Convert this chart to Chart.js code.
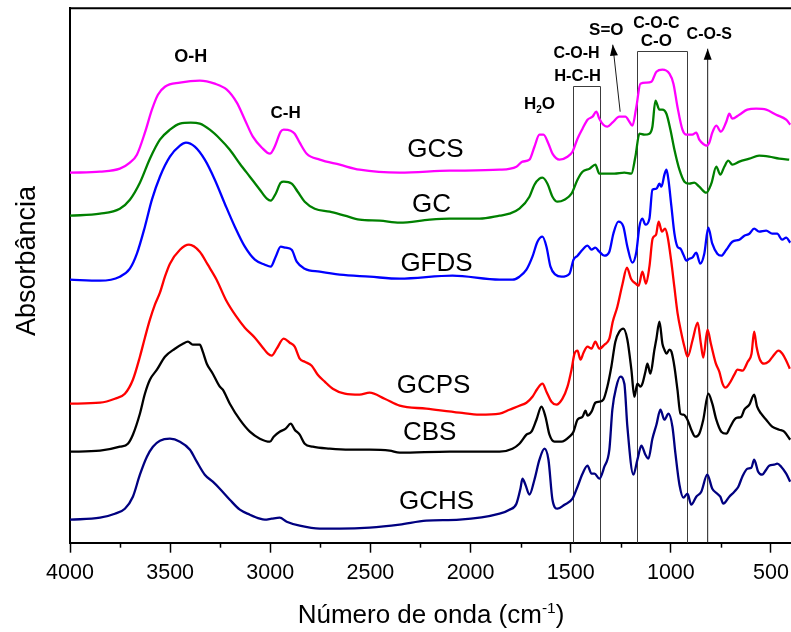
<!DOCTYPE html>
<html>
<head>
<meta charset="utf-8">
<title>Espectros FTIR</title>
<script src="https://cdn.jsdelivr.net/npm/chart.js@4/dist/chart.umd.min.js"></script>
<style>
  html, body { margin: 0; padding: 0; background: #ffffff; }
  #wrap { width: 791px; height: 632px; }
</style>
</head>
<body>
<div id="wrap"><canvas id="ftir" width="791" height="632"></canvas></div>
<script>
// Wavenumbers (cm-1) and absorbance of each spectrum (curves are offset vertically)
const gcsWn  = [4000,3850,3751,3701,3666,3626,3591,3561,3526,3451,3352,3277,3217,3167,3127,3087,3042,3002,2978,2948,2933,2898,2878,2853,2818,2753,2653,2554,2354,2105,1855,1771,1741,1706,1681,1656,1636,1611,1591,1556,1516,1491,1466,1441,1416,1391,1372,1357,1337,1317,1292,1257,1227,1207,1192,1172,1152,1122,1097,1072,1042,1007,987,967,942,922,893,873,858,833,823,808,793,773,750,723,708,693,658,618,574,524,474,424,404];
const gcsAbs = [3.70,3.71,3.74,3.80,3.88,4.10,4.33,4.48,4.56,4.60,4.62,4.59,4.53,4.40,4.23,4.06,3.95,3.89,3.96,4.11,4.13,4.12,4.09,4.00,3.89,3.83,3.78,3.73,3.70,3.72,3.73,3.76,3.81,3.83,3.96,4.08,4.08,3.99,3.89,3.83,3.86,3.91,4.04,4.14,4.23,4.26,4.31,4.24,4.18,4.16,4.20,4.26,4.26,4.21,4.17,4.36,4.59,4.60,4.61,4.71,4.73,4.69,4.59,4.36,4.13,4.08,4.08,4.10,4.03,3.98,3.97,4.00,4.10,4.17,4.11,4.21,4.29,4.24,4.28,4.33,4.34,4.33,4.28,4.23,4.18];

const gcWn  = [4000,3850,3751,3701,3651,3601,3551,3501,3451,3397,3352,3302,3252,3202,3152,3102,3052,3017,2998,2973,2948,2933,2893,2863,2828,2778,2703,2628,2554,2454,2354,2204,2105,1955,1855,1806,1756,1706,1681,1656,1641,1616,1591,1566,1531,1496,1466,1441,1406,1377,1357,1327,1282,1232,1197,1177,1157,1132,1107,1092,1077,1057,1042,1022,1002,982,957,932,908,883,858,823,798,773,753,733,713,693,658,608,559,509,459,409];
const gcAbs = [3.27,3.29,3.34,3.43,3.60,3.84,4.03,4.13,4.19,4.20,4.19,4.13,4.04,3.93,3.79,3.66,3.53,3.44,3.42,3.49,3.60,3.61,3.59,3.51,3.41,3.34,3.31,3.27,3.23,3.22,3.20,3.23,3.24,3.24,3.27,3.29,3.34,3.46,3.58,3.64,3.65,3.59,3.46,3.41,3.43,3.49,3.63,3.71,3.74,3.78,3.69,3.69,3.69,3.70,3.69,3.86,4.09,4.08,4.09,4.16,4.42,4.33,4.33,4.29,4.13,3.93,3.73,3.61,3.59,3.60,3.56,3.50,3.59,3.76,3.68,3.76,3.82,3.78,3.81,3.84,3.87,3.86,3.84,3.83];

const gfdsWn  = [4000,3850,3751,3701,3666,3626,3591,3551,3501,3451,3421,3377,3327,3277,3227,3177,3127,3077,3027,2998,2973,2948,2923,2893,2868,2828,2753,2653,2504,2354,2090,1855,1791,1756,1721,1691,1666,1641,1621,1601,1576,1546,1506,1486,1466,1441,1416,1396,1377,1357,1332,1307,1287,1262,1237,1217,1192,1172,1157,1142,1127,1107,1092,1072,1057,1047,1032,1022,1012,997,982,967,952,937,922,908,893,873,853,833,813,793,768,748,723,693,658,633,608,584,559,524,494,469,444,424,404];
const gfdsAbs = [2.63,2.62,2.66,2.74,2.89,3.16,3.43,3.66,3.86,3.97,4.00,3.96,3.83,3.63,3.39,3.16,2.96,2.83,2.78,2.76,2.86,2.96,2.95,2.93,2.81,2.74,2.71,2.68,2.66,2.64,2.67,2.63,2.63,2.66,2.73,2.86,3.01,3.06,2.96,2.76,2.68,2.66,2.69,2.83,2.87,2.93,2.97,2.93,2.95,2.91,2.87,2.91,3.09,3.21,3.16,2.96,2.80,2.91,3.16,3.24,3.18,3.24,3.53,3.54,3.59,3.56,3.68,3.73,3.63,3.36,3.09,2.96,2.94,2.88,2.82,2.84,2.85,2.90,2.79,2.89,3.15,2.99,2.89,2.87,2.93,3.01,3.03,3.07,3.09,3.14,3.11,3.12,3.09,3.09,3.03,3.05,3.00];

const gcpsWn  = [4000,3850,3776,3726,3686,3651,3626,3601,3576,3551,3526,3501,3451,3406,3352,3312,3268,3222,3169,3127,3077,3037,3012,2993,2968,2933,2903,2878,2853,2828,2793,2763,2728,2688,2628,2554,2504,2429,2354,2221,2055,1955,1855,1806,1756,1721,1691,1666,1641,1621,1596,1571,1541,1516,1496,1481,1466,1451,1436,1416,1396,1377,1357,1332,1307,1290,1267,1241,1219,1199,1175,1161,1142,1124,1107,1091,1074,1061,1044,1029,1016,999,982,966,949,932,916,891,866,850,838,817,800,775,758,742,728,708,683,667,642,616,597,584,572,555,534,512,492,462,443,426,406];
const gcpsAbs = [1.39,1.40,1.44,1.49,1.63,1.86,2.05,2.23,2.38,2.50,2.66,2.79,2.93,2.98,2.91,2.78,2.63,2.43,2.26,2.15,2.05,1.95,1.89,1.87,1.94,2.04,2.00,1.96,1.84,1.81,1.77,1.68,1.61,1.54,1.49,1.48,1.50,1.44,1.37,1.34,1.30,1.28,1.29,1.33,1.37,1.40,1.46,1.54,1.59,1.51,1.41,1.38,1.44,1.56,1.73,1.89,1.92,1.83,1.90,1.96,1.94,2.01,1.94,1.98,2.04,2.21,2.36,2.59,2.75,2.64,2.59,2.57,2.71,2.59,2.76,3.04,3.08,3.21,3.11,3.14,3.06,2.83,2.55,2.29,2.11,1.96,1.86,2.03,2.20,1.99,1.85,2.13,1.99,1.79,1.71,1.59,1.55,1.59,1.68,1.73,1.72,1.81,1.89,2.11,1.96,1.83,1.79,1.81,1.86,1.92,1.89,1.83,1.74];

const cbsWn  = [4000,3850,3751,3711,3686,3651,3626,3601,3566,3526,3476,3436,3411,3387,3352,3337,3317,3287,3252,3237,3202,3152,3102,3052,3002,2983,2953,2923,2898,2878,2853,2828,2788,2703,2603,2504,2404,2354,2105,1855,1791,1756,1721,1696,1671,1646,1626,1606,1581,1546,1506,1486,1466,1441,1426,1416,1396,1377,1357,1337,1317,1297,1277,1257,1237,1217,1197,1182,1167,1152,1142,1127,1117,1102,1082,1072,1057,1042,1032,1022,1007,997,982,967,952,937,917,898,878,858,838,813,793,773,748,723,703,683,668,648,633,608,584,569,549,524,494,459,434,404];
const cbsAbs = [0.91,0.92,0.96,0.99,1.08,1.29,1.49,1.63,1.73,1.86,1.94,1.99,2.01,1.98,1.98,1.91,1.79,1.69,1.56,1.53,1.39,1.23,1.11,1.04,1.01,1.06,1.11,1.14,1.19,1.13,1.08,0.99,0.96,0.94,0.93,0.93,0.92,0.90,0.91,0.91,0.94,0.99,1.08,1.11,1.23,1.36,1.26,1.08,1.01,1.01,1.06,1.11,1.23,1.26,1.32,1.27,1.31,1.40,1.41,1.43,1.56,1.76,2.01,2.11,2.14,2.03,1.73,1.46,1.59,1.56,1.59,1.71,1.79,1.69,1.93,2.04,2.21,1.99,1.93,1.89,1.93,1.91,1.76,1.53,1.29,1.28,1.23,1.13,1.06,1.09,1.23,1.49,1.39,1.23,1.11,1.09,1.16,1.23,1.25,1.26,1.33,1.38,1.48,1.36,1.29,1.23,1.16,1.13,1.11,1.03];

const gchsWn  = [4000,3850,3776,3726,3686,3651,3616,3586,3551,3501,3451,3401,3367,3327,3287,3252,3202,3152,3102,3052,3027,2993,2953,2918,2853,2753,2653,2504,2354,2221,2055,1855,1806,1771,1751,1741,1726,1706,1681,1656,1631,1611,1591,1566,1531,1491,1466,1441,1416,1396,1381,1357,1332,1307,1292,1272,1252,1232,1217,1187,1167,1147,1127,1112,1092,1072,1052,1032,1012,992,977,957,937,917,898,873,848,818,793,768,753,738,708,683,663,643,618,598,584,564,544,524,509,484,469,449,424,404];
const gchsAbs = [0.23,0.25,0.29,0.34,0.46,0.68,0.86,0.96,1.02,1.04,1.01,0.93,0.81,0.68,0.61,0.54,0.43,0.33,0.28,0.24,0.23,0.24,0.25,0.21,0.17,0.14,0.14,0.15,0.18,0.22,0.23,0.29,0.33,0.39,0.54,0.64,0.58,0.48,0.63,0.83,0.94,0.83,0.43,0.34,0.38,0.44,0.56,0.69,0.77,0.69,0.69,0.64,0.76,0.93,1.33,1.56,1.66,1.59,1.16,0.68,0.83,0.97,0.88,0.84,1.04,1.18,1.33,1.23,1.29,1.16,0.89,0.58,0.45,0.49,0.38,0.46,0.51,0.68,0.54,0.49,0.46,0.39,0.46,0.51,0.56,0.66,0.74,0.75,0.83,0.71,0.68,0.73,0.77,0.78,0.79,0.76,0.69,0.61];

// Sample names
const sampleNames = ['GCS', 'GC', 'GFDS', 'GCPS', 'CBS', 'GCHS'];
// Where each sample name sits (wavenumber, absorbance)
const sampleNameAt = [[2175, 3.93], [2195, 3.38], [2170, 2.79], [2185, 1.57], [2204, 1.10], [2170, 0.41]];

// Axis ticks
const xTicks = [4000, 3500, 3000, 2500, 2000, 1500, 1000, 500];

// Band assignments
const bandBoxes = [
  { from: 1488, to: 1353, top: 4.57 },   // C-O-H / H-C-H
  { from: 1169, to: 921,  top: 4.92 }    // C-O-C / C-O
];
const bandArrows = [
  { fromWn: 816,  fromA: 0,    toWn: 816,  toA: 4.94 },  // C-O-S
  { fromWn: 1253, fromA: 4.31, toWn: 1290, toA: 4.98 }   // S=O
];
const bandLabels = [
  { text: 'O-H',   wn: 3397, a: 4.86, size: 18 },
  { text: 'C-H',   wn: 2923, a: 4.29, size: 17 },
  { text: 'C-O-H', wn: 1471, a: 4.89, size: 16 },
  { text: 'H-C-H', wn: 1466, a: 4.66, size: 16.5 },
  { text: 'S=O',   wn: 1322, a: 5.12, size: 17 },
  { text: 'C-O-C', wn: 1072, a: 5.19, size: 16 },
  { text: 'C-O',   wn: 1072, a: 5.01, size: 17 },
  { text: 'C-O-S', wn: 808,  a: 5.08, size: 16 }
];
const waterLabel = { wn: 1656, a: 4.38, size: 17 };

const FONT = "'Liberation Sans', Arial, Helvetica, sans-serif";
const colors = ['#ff00ff', '#008000', '#0000ff', '#ff0000', '#000000', '#000080'];
const seriesWn  = [gcsWn, gcWn, gfdsWn, gcpsWn, cbsWn, gchsWn];
const seriesAbs = [gcsAbs, gcAbs, gfdsAbs, gcpsAbs, cbsAbs, gchsAbs];

const datasets = sampleNames.map((name, i) => ({
  label: name,
  data: seriesWn[i].map((w, k) => ({ x: w, y: seriesAbs[i][k] })),
  borderColor: colors[i],
  borderWidth: 2.3,
  pointRadius: 0,
  fill: false,
  cubicInterpolationMode: 'monotone'
}));

function arrowHead(ctx, x0, y0, x1, y1, len, half) {
  const ang = Math.atan2(y1 - y0, x1 - x0);
  ctx.beginPath();
  ctx.moveTo(x1, y1);
  ctx.lineTo(x1 - len * Math.cos(ang) + half * Math.sin(ang), y1 - len * Math.sin(ang) - half * Math.cos(ang));
  ctx.lineTo(x1 - len * Math.cos(ang) - half * Math.sin(ang), y1 - len * Math.sin(ang) + half * Math.cos(ang));
  ctx.closePath();
  ctx.fill();
}

const decorations = {
  id: 'decorations',
  beforeDatasetsDraw(chart) {
    const { ctx, chartArea: area, scales: { x, y } } = chart;
    ctx.save();
    // top edge of the frame
    ctx.strokeStyle = '#000';
    ctx.lineWidth = 2;
    ctx.beginPath();
    ctx.moveTo(area.left - 1, area.top);
    ctx.lineTo(area.right, area.top);
    ctx.stroke();

    // minor ticks between the labelled ones
    ctx.lineWidth = 1.5;
    for (let v = 750; v < 4000; v += 500) {
      const px = Math.round(x.getPixelForValue(v)) + 0.5;
      ctx.beginPath();
      ctx.moveTo(px, area.bottom);
      ctx.lineTo(px, area.bottom + 5);
      ctx.stroke();
    }

    // band boxes
    ctx.strokeStyle = '#3c3c3c';
    ctx.lineWidth = 1;
    bandBoxes.forEach(b => {
      const x1 = Math.round(x.getPixelForValue(b.from)) + 0.5;
      const x2 = Math.round(x.getPixelForValue(b.to)) + 0.5;
      const yt = Math.round(y.getPixelForValue(b.top)) + 0.5;
      ctx.beginPath();
      ctx.moveTo(x1, area.bottom);
      ctx.lineTo(x1, yt);
      ctx.lineTo(x2, yt);
      ctx.lineTo(x2, area.bottom);
      ctx.stroke();
    });

    // arrows
    ctx.fillStyle = '#000';
    ctx.strokeStyle = '#1a1a1a';
    bandArrows.forEach(a => {
      const x0 = x.getPixelForValue(a.fromWn), y0 = y.getPixelForValue(a.fromA);
      const x1 = x.getPixelForValue(a.toWn),   y1 = y.getPixelForValue(a.toA);
      ctx.beginPath();
      ctx.moveTo(x0, y0);
      ctx.lineTo(x1, y1);
      ctx.stroke();
      arrowHead(ctx, x0, y0, x1, y1, 11, 4);
    });
    ctx.restore();
  },
  afterDraw(chart) {
    const { ctx, chartArea: area, scales: { x, y } } = chart;
    ctx.save();
    ctx.fillStyle = '#000';
    ctx.textAlign = 'center';
    ctx.textBaseline = 'middle';

    // sample names
    ctx.font = '26px ' + FONT;
    sampleNames.forEach((name, i) => {
      ctx.fillText(name, x.getPixelForValue(sampleNameAt[i][0]), y.getPixelForValue(sampleNameAt[i][1]));
    });

    // band labels
    bandLabels.forEach(l => {
      ctx.font = 'bold ' + l.size + 'px ' + FONT;
      ctx.fillText(l.text, x.getPixelForValue(l.wn), y.getPixelForValue(l.a));
    });

    // H2O with subscript
    {
      const big = 'bold ' + waterLabel.size + 'px ' + FONT;
      const small = 'bold ' + Math.round(waterLabel.size * 0.6) + 'px ' + FONT;
      ctx.font = big;
      const wH = ctx.measureText('H').width, wO = ctx.measureText('O').width;
      ctx.font = small;
      const w2 = ctx.measureText('2').width;
      const cx = x.getPixelForValue(waterLabel.wn), cy = y.getPixelForValue(waterLabel.a);
      const sx = cx - (wH + w2 + wO) / 2;
      ctx.textAlign = 'left';
      ctx.font = big;
      ctx.fillText('H', sx, cy);
      ctx.font = small;
      ctx.fillText('2', sx + wH, cy + 6);
      ctx.font = big;
      ctx.fillText('O', sx + wH + w2, cy);
    }

    // x axis title with superscript
    {
      const big = '26px ' + FONT, small = '15.5px ' + FONT;
      const parts = [['Número de onda (cm', big, 0], ['-1', small, -10], [')', big, 0]];
      let total = 0;
      parts.forEach(p => { ctx.font = p[1]; p.push(ctx.measureText(p[0]).width); total += p[3]; });
      let sx = 431 - total / 2;
      ctx.textAlign = 'left';
      ctx.textBaseline = 'alphabetic';
      parts.forEach(p => {
        ctx.font = p[1];
        ctx.fillText(p[0], sx, 623 + p[2]);
        sx += p[3];
      });
    }

    // y axis title
    ctx.translate(35, 261);
    ctx.rotate(-Math.PI / 2);
    ctx.textAlign = 'center';
    ctx.textBaseline = 'alphabetic';
    ctx.font = '27px ' + FONT;
    ctx.fillText('Absorbância', 0, 0);
    ctx.restore();
  }
};

new Chart(document.getElementById('ftir'), {
  type: 'line',
  data: { datasets },
  options: {
    responsive: false,
    animation: false,
    devicePixelRatio: 1,
    layout: { padding: { top: 8.3, right: -1, bottom: 0, left: 0 } },
    plugins: { legend: { display: false }, tooltip: { enabled: false } },
    scales: {
      x: {
        type: 'linear',
        reverse: true,
        min: 400,
        max: 4000,
        afterFit: s => { s.height = 89.3; },
        afterBuildTicks: s => { s.ticks = xTicks.slice().reverse().map(v => ({ value: v })); },
        ticks: {
          includeBounds: false,
          autoSkip: false,
          maxRotation: 0,
          padding: 7,
          color: '#000',
          font: { family: FONT, size: 21.5 },
          callback: v => String(v)
        },
        grid: { display: true, drawOnChartArea: false, drawTicks: true, tickLength: 10, tickWidth: 1.5, tickColor: '#000' },
        border: { display: true, color: '#000', width: 2 }
      },
      y: {
        min: 0,
        max: 5.344,
        afterFit: s => { s.width = 70; },
        ticks: { display: false },
        grid: { display: false, drawTicks: false },
        border: { display: true, color: '#000', width: 2 }
      }
    }
  },
  plugins: [decorations]
});
</script>
</body>
</html>
